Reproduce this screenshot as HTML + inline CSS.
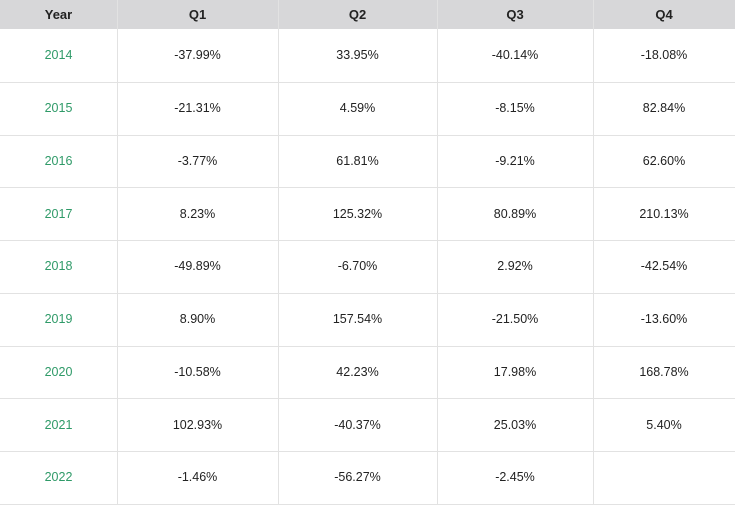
<!DOCTYPE html>
<html><head><meta charset="utf-8"><style>
body{margin:0;width:735px;height:516px;background:#fff;font-family:"Liberation Sans",sans-serif;overflow:hidden;position:relative}
.c{position:absolute;display:flex;align-items:center;justify-content:center;font-size:12.5px;color:#222;box-sizing:border-box}
.h{background:#d7d7d9;font-weight:bold;color:#222;font-size:13px}
.y{color:#2f9a68}
.vl{position:absolute;width:1px;background:#e2e2e2}
.hl{position:absolute;height:1px;left:0;width:735px;background:#e2e2e2}
</style></head><body>
<div id="t"></div>
<script>
const years=["2014","2015","2016","2017","2018","2019","2020","2021","2022"];
const q1=["-37.99%","-21.31%","-3.77%","8.23%","-49.89%","8.90%","-10.58%","102.93%","-1.46%"];
const q2=["33.95%","4.59%","61.81%","125.32%","-6.70%","157.54%","42.23%","-40.37%","-56.27%"];
const q3=["-40.14%","-8.15%","-9.21%","80.89%","2.92%","-21.50%","17.98%","25.03%","-2.45%"];
const q4=["-18.08%","82.84%","62.60%","210.13%","-42.54%","-13.60%","168.78%","5.40%",""];
const headers=["Year","Q1","Q2","Q3","Q4"];
const xs=[0,117,278,437,593,735];
const t=document.getElementById('t');
const H=29,R=52.75;
function cell(txt,ci,top,h,cls){const d=document.createElement('div');d.className='c '+cls;
d.style.left=xs[ci]+'px';d.style.width=(xs[ci+1]-xs[ci])+'px';d.style.top=top+'px';d.style.height=h+'px';d.textContent=txt;t.appendChild(d);return d;}
headers.forEach((h,i)=>{const d=cell(h,i,0,H,'h');

});
const cols=[years,q1,q2,q3,q4];
years.forEach((y,r)=>{cols.forEach((col,ci)=>{const d=cell(col[r],ci,H+r*R,R,ci==0?'y':'');

});
const l=document.createElement('div');l.className='hl';l.style.top=Math.round(H+(r+1)*R)+'px';


t.appendChild(l);});
for(let i=1;i<5;i++){const v=document.createElement('div');v.className='vl';v.style.left=xs[i]+'px';v.style.top='0px';v.style.height=Math.round(H+9*R)+'px';


t.appendChild(v);}
</script>
</body></html>
